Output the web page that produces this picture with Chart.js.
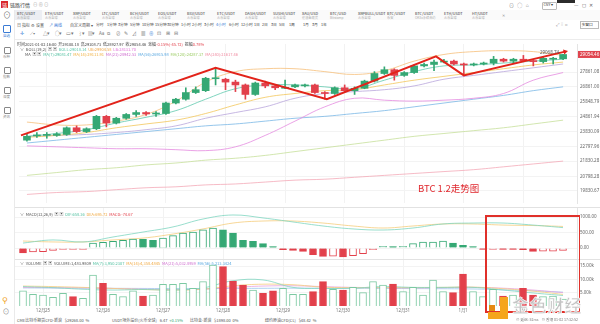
<!DOCTYPE html>
<html lang="zh-CN">
<head>
<meta charset="utf-8">
<title>BTC/USDT 4小时</title>
<script src="https://cdn.jsdelivr.net/npm/chart.js@4.4.1/dist/chart.umd.min.js"></script>
<style>
  html, body { margin: 0; padding: 0; }
  body { width: 600px; height: 324px; overflow: hidden; background: #fff; position: relative;
         font-family: "Noto Sans CJK SC", "Noto Sans", sans-serif; color: #333; }
  .t { position: absolute; white-space: nowrap; line-height: 1; }
  canvas { position: absolute; }
</style>
</head>
<body>
<canvas id="mainChart" width="585" height="167" style="left:15px;top:40px"></canvas>
<canvas id="macdChart" width="585" height="52" style="left:15px;top:207px"></canvas>
<canvas id="volChart" width="585" height="56" style="left:15px;top:259px"></canvas>

<script>
// ---- candles, 4h, 2020-12-24 .. 2021-01-02 ----
const opens  = [23249, 23539, 23572, 23572, 23636, 24088, 23830, 24023, 24862, 24410, 24733, 24991, 25120, 25023, 25055, 25765, 26023, 26474, 26603, 27409, 27377, 27184, 26990, 26345, 27119, 26926, 26764, 26861, 26926, 26990, 26474, 26410, 26797, 26603, 26764, 27248, 27764, 28022, 27635, 27829, 28280, 28377, 28538, 28603, 28409, 28345, 28409, 28474, 28732, 28603, 28732, 28603, 28570, 28732, 28760];
const closes = [23507, 23604, 23636, 23668, 24088, 23830, 24023, 24862, 24410, 24733, 24991, 25120, 25023, 25055, 25765, 26023, 26474, 26668, 27442, 27474, 27184, 26990, 26345, 27119, 26926, 26797, 26829, 26990, 26990, 26474, 26410, 26797, 26603, 26764, 27248, 27764, 28022, 27635, 27829, 28280, 28377, 28538, 28603, 28409, 28345, 28409, 28474, 28732, 28603, 28732, 28635, 28570, 28796, 28760, 29054.46];
const highs  = [23636, 23765, 23765, 23765, 24152, 24217, 24088, 24926, 24926, 24797, 25055, 25249, 25184, 25184, 25829, 26087, 26797, 26861, 27506, 28151, 27442, 27313, 27055, 27184, 27248, 26990, 27313, 27055, 27055, 27055, 26539, 26861, 26990, 26861, 27313, 27893, 28216, 28087, 27893, 28345, 28474, 28667, 28732, 28667, 28474, 28474, 28538, 28925, 28796, 28796, 28990, 28667, 28860, 28860, 29068.74];
const lows   = [23185, 23443, 23378, 23507, 23572, 23765, 23765, 23959, 24152, 24346, 24668, 24862, 24926, 24862, 24991, 25700, 25958, 26410, 26539, 26990, 26668, 26539, 26023, 26281, 26797, 26668, 26732, 26797, 26861, 26410, 26023, 26345, 26539, 26345, 26732, 27184, 27700, 27313, 27571, 27764, 28216, 27958, 28474, 28345, 27635, 28280, 28345, 28345, 28538, 28474, 28603, 28280, 28474, 28409, 28699];
const volumes = [5750, 4400, 4140, 3270, 4770, 3500, 2900, 11650, 8530, 4400, 3500, 5750, 3760, 4140, 8150, 8150, 8530, 6640, 9150, 15400, 14780, 9400, 7900, 6020, 4770, 5750, 6640, 4400, 4400, 5390, 9150, 6270, 6020, 7020, 5010, 9150, 7900, 8270, 5390, 7020, 4140, 9770, 5390, 5010, 12030, 5390, 3500, 6270, 3760, 4140, 6640, 4140, 3500, 3760, 2630];
const macdHist = [-160, -130, -120, -75, -30, -30, -25, 160, 180, 215, 245, 290, 280, 245, 320, 400, 480, 515, 590, 645, 590, 480, 245, 215, 140, 40, -55, -75, -110, -215, -270, -260, -290, -245, -180, -55, 55, 40, 55, 140, 190, 195, 225, 160, 85, 30, -20, -20, -40, -45, -55, -110, -105, -100, -75];

// indicator lines, read every third candle
const sampleIdx = [0, 3, 6, 9, 12, 15, 18, 21, 24, 27, 30, 33, 36, 39, 42, 45, 48, 51, 54];
const bollUp   = [24475, 24281, 24281, 24539, 24991, 25894, 27184, 27893, 28087, 28087, 27893, 27700, 27958, 28603, 29054, 29248, 29312, 29248, 28990];
const bollLow  = [22862, 22798, 22733, 22669, 22669, 22604, 22540, 22798, 23572, 24539, 25507, 26087, 25958, 25894, 25958, 26087, 26410, 27313, 27829];
const ma7      = [23507, 23701, 23959, 24410, 24797, 25249, 26023, 26732, 26990, 26990, 26861, 26732, 27313, 27893, 28280, 28345, 28474, 28603, 28732];
const ma14     = [23443, 23572, 23765, 24088, 24346, 24604, 25055, 25636, 26152, 26410, 26603, 26668, 26990, 27313, 27571, 27829, 28087, 28345, 28538];
const ma21     = [23507, 23572, 23636, 23765, 23959, 24217, 24733, 25120, 25507, 26087, 26410, 26539, 26668, 26926, 27377, 27635, 27893, 28151, 28409];
const ma56     = [23056, 23249, 23443, 23636, 23830, 24023, 24217, 24346, 24539, 24733, 24862, 25055, 25249, 25507, 25765, 26023, 26281, 26603, 26861];
const ma120    = [20863, 21056, 21250, 21379, 21572, 21701, 21895, 22024, 22217, 22475, 22733, 22991, 23249, 23507, 23701, 23894, 24088, 24346, 24604];
const ma240    = [19573, 19702, 19766, 19895, 20024, 20089, 20218, 20282, 20411, 20540, 20605, 20734, 20863, 20992, 21121, 21250, 21443, 21637, 21830];
const dif      = [160, 260, 195, 355, 515, 680, 935, 1065, 970, 840, 710, 615, 580, 645, 775, 805, 805, 740, 658];
const dea      = [225, 195, 195, 260, 320, 450, 615, 805, 870, 870, 805, 710, 645, 710, 775, 775, 740, 725, 696];
const volMa7   = [7300, 6900, 6300, 6000, 6200, 6000, 6800, 9500, 9800, 7000, 6600, 6700, 7300, 7000, 7000, 7000, 6000, 4900, 3950];
const volMa14  = [7500, 7300, 7000, 6600, 6200, 6000, 6300, 7600, 8200, 8000, 7100, 6900, 6900, 6900, 7000, 7100, 6500, 5600, 4360];
const volMa21  = [7000, 6900, 6800, 6600, 6300, 6200, 6300, 7000, 7500, 7600, 7300, 7000, 6900, 6800, 6900, 7000, 6700, 6000, 5030];
const volMa56  = [6800, 6750, 6700, 6650, 6600, 6550, 6550, 6600, 6650, 6700, 6700, 6650, 6600, 6550, 6500, 6400, 6100, 5700, 5210];

// hand drawn trend line (candle index, price)
const trendIdx   = [-0.6, 19, 30.2, 41.2, 44, 54.2];
const trendPrice = [23572, 28151, 26023, 28925, 27635, 29248];

// axes
const dayTicks  = [2, 8, 14, 20, 26, 32, 38, 44, 50];
const dayLabels = ['12月25', '12月26', '12月27', '12月28', '12月29', '12月30', '12月31', '1月1', '1月2'];
const priceTicks = [27861.08, 26861.00, 25848.79, 24861.94, 23830.09, 22797.96, 21830.28, 20798.28, 19830.67];
const macdTicks = [1000, 500, 0];
const volTicks = [15000, 10000, 5000];

const UP = '#35a874', DOWN = '#e2404b';
const FONT = { family: 'Noto Sans', size: 4.5 };
const idx = opens.map((_, i) => i);
const isUp = idx.map(i => closes[i] >= opens[i]);

function xScale(showLabels) {
  return {
    type: 'linear', min: -0.8, max: 55.4, offset: false,
    afterBuildTicks: s => { s.ticks = dayTicks.map(v => ({ value: v })); },
    ticks: { display: showLabels, font: FONT, color: '#777', padding: 2, maxRotation: 0, autoSkip: false,
             callback: (v, i) => dayLabels[i] },
    grid: { color: '#f2f2f2', drawTicks: false, offset: false },
    border: { display: false },
    afterFit: s => { s.height = showLabels ? 9 : 0; s.paddingLeft = 0; s.paddingRight = 0; }
  };
}
function yScale(min, max, ticks, fmt) {
  return {
    position: 'right', min: min, max: max,
    afterBuildTicks: s => { s.ticks = ticks.map(v => ({ value: v })); },
    ticks: { font: FONT, color: '#666', padding: 3, callback: v => fmt(v) },
    grid: { color: '#f3f3f3', drawTicks: false },
    border: { display: true, color: '#e4e4e4' },
    afterFit: s => { s.width = 23; s.paddingTop = 0; s.paddingBottom = 0; }
  };
}
function lineSet(values, color, width) {
  return { type: 'line', data: sampleIdx.map((x, k) => ({ x: x, y: values[k] })),
           borderColor: color, borderWidth: width || 0.8, pointRadius: 0, tension: 0.4, order: 3 };
}
const baseOpts = {
  responsive: false, devicePixelRatio: 1, animation: false,
  layout: { padding: 0 },
  plugins: { legend: { display: false }, tooltip: { enabled: false } }
};

// last price tag + max marker
const priceTag = {
  id: 'priceTag',
  afterDraw(chart) {
    const { ctx, chartArea, scales } = chart;
    const last = closes[closes.length - 1];
    const y = scales.y.getPixelForValue(last);
    ctx.save();
    ctx.fillStyle = '#e0454f';
    ctx.fillRect(chartArea.right + 1, y - 3.5, 22, 7);
    ctx.fillStyle = '#fff';
    ctx.font = '4.5px "Noto Sans"';
    ctx.textBaseline = 'middle';
    ctx.fillText(last.toFixed(2), chartArea.right + 3, y);
    const hi = Math.max.apply(null, highs);
    const hy = scales.y.getPixelForValue(hi);
    const hx = scales.x.getPixelForValue(highs.indexOf(hi));
    ctx.fillStyle = '#555';
    ctx.textAlign = 'right';
    ctx.fillText(hi.toFixed(2), hx - 4, hy - 2);
    ctx.restore();
  }
};

new Chart(document.getElementById('mainChart'), {
  type: 'bar',
  data: {
    datasets: [
      { type: 'line', data: trendIdx.map((x, k) => ({ x: x, y: trendPrice[k] })), borderColor: '#e2231a',
        borderWidth: 2, pointRadius: [0, 0, 0, 0, 0, 3], pointStyle: 'triangle', pointRotation: 76,
        pointBackgroundColor: '#e2231a', pointBorderWidth: 0, tension: 0, order: 0 },
      { data: idx.map(i => ({ x: i, y: [opens[i], closes[i]] })), backgroundColor: idx.map(i => isUp[i] ? UP : DOWN),
        barThickness: 7, minBarLength: 1, grouped: false, order: 1 },
      { data: idx.map(i => ({ x: i, y: [lows[i], highs[i]] })), backgroundColor: idx.map(i => isUp[i] ? UP : DOWN),
        barThickness: 1, grouped: false, order: 2 },
      lineSet(bollUp, '#f6bf7a'),
      lineSet(ma7, '#5ec9ad'),
      lineSet(ma14, '#f3c75a'),
      lineSet(ma21, '#b9a6dc'),
      lineSet(bollLow, '#e58ae0'),
      lineSet(ma56, '#7ab8e6'),
      lineSet(ma120, '#c6e09a'),
      lineSet(ma240, '#f4a9b8')
    ]
  },
  options: Object.assign({}, baseOpts, {
    scales: { x: xScale(false), y: yScale(18992, 29763.5, priceTicks, v => v.toFixed(2)) }
  }),
  plugins: [priceTag]
});

new Chart(document.getElementById('macdChart'), {
  type: 'bar',
  data: {
    datasets: [
      lineSet(dif, '#7fd6c0'),
      lineSet(dea, '#f5cd7c'),
      { data: idx.map(i => ({ x: i, y: macdHist[i] })),
        backgroundColor: idx.map(i => (i > 0 && macdHist[i] >= macdHist[i - 1]) ? '#fff' : (macdHist[i] >= 0 ? UP : DOWN)),
        borderColor: idx.map(i => macdHist[i] >= 0 ? UP : DOWN),
        borderWidth: 1, barThickness: 7, minBarLength: 1.5, grouped: false, order: 1 }
    ]
  },
  options: Object.assign({}, baseOpts, {
    scales: { x: xScale(false), y: yScale(-354.8, 1322.6, macdTicks, v => v.toFixed(2)) }
  })
});

new Chart(document.getElementById('volChart'), {
  type: 'bar',
  data: {
    datasets: [
      lineSet(volMa7, '#7fd6c0'),
      lineSet(volMa14, '#f5cd7c'),
      lineSet(volMa21, '#e7a2e0'),
      lineSet(volMa56, '#9cc6ec'),
      { data: idx.map(i => ({ x: i, y: volumes[i] })),
        backgroundColor: idx.map(i => isUp[i] ? '#fff' : DOWN),
        borderColor: idx.map(i => isUp[i] ? '#7cc9a2' : DOWN),
        borderWidth: 1, barThickness: 7, grouped: false, order: 1 }
    ]
  },
  options: Object.assign({}, baseOpts, {
    scales: { x: xScale(true), y: yScale(0, 17672, volTicks, v => (v / 1000).toFixed(2) + 'k') }
  })
});

// ---------- surrounding terminal UI ----------
function put(x, y, html, size, color, extra) {
  const d = document.createElement('div');
  d.className = 't';
  d.style.left = x + 'px';
  d.style.top = y + 'px';
  d.style.fontSize = size + 'px';
  d.style.color = color || '#333';
  if (extra) Object.assign(d.style, extra);
  d.innerHTML = html;
  document.body.appendChild(d);
  return d;
}
function box(x, y, w, h, style) {
  const d = document.createElement('div');
  d.style.position = 'absolute';
  d.style.left = x + 'px'; d.style.top = y + 'px';
  d.style.width = w + 'px'; d.style.height = h + 'px';
  Object.assign(d.style, style);
  document.body.appendChild(d);
  return d;
}

// title bar
box(1, 1, 7, 7, { background: '#d9252b' });
put(2.2, 2, '链', 5, '#fff');
put(10, 2, '链路行情', 5, '#333');
put(33, 2, '⊖ ⊕ ⊙', 4.5, '#aaa');
put(509, 2, '⊙&nbsp;&nbsp; ◯&nbsp;&nbsp; ⌂', 5, '#777');
box(542, 2, 13, 6, { border: '0.5px solid #bbb', borderRadius: '1px' });
put(543.5, 3.3, 'CNY ▾', 3.6, '#333');
box(557, 0, 18, 3, { background: '#2b2b2b' });
put(574, 1.5, '—&nbsp;&nbsp;&nbsp;◻&nbsp;&nbsp; ✕', 5, '#666');

// pair tabs
const tabs = [['BTC/USDT', '火币全球'], ['ETH/USDT', '火币全球'], ['XRP/USDT', '火币全球'], ['LTC/USDT', '火币全球'],
  ['BCH/USDT', '火币全球'], ['EOS/USDT', '火币全球'], ['BSV/USDT', '火币全球'], ['ETC/USDT', '火币全球'],
  ['DASH/USDT', '火币全球'], ['SUSHI/USDT', '火币全球'], ['XAU/USD', '伦敦金现货'], ['BTC/USD', 'Bitstamp'],
  ['XRPBULL/USDT', '火币全球'], ['BTC/USDT', '币安'], ['BTC/USDT', 'OKEx永续合约'], ['ETH/USDT', '火币全球'], ['HT/USDT', '火币全球']];
const tabX = [17, 45, 73, 102, 130, 158, 187, 217, 245, 273, 302, 330, 358, 387, 415, 444, 472];
box(15, 10, 585, 10, { background: '#fafafa' });
box(15, 10, 27, 10, { background: '#eceef3' });
tabs.forEach((t, k) => {
  put(tabX[k], 11.5, t[0], 3.8, '#333');
  put(tabX[k], 16, t[1], 3.2, '#aaa');
});
put(502, 13, '✕', 4, '#999');

// period row
put(17, 22.5, '日 指标', 4, '#555');
put(31, 22.5, '⚙ 设置', 4, '#555');
put(49, 22.5, '↗ 画线', 4, '#3a7bd5');
put(70, 22.5, '自定义周期 ▾', 4, '#555');
const periods = ['分时', '1分钟', '3分钟', '5分钟', '10分钟', '15分钟', '30分钟', '1小时', '2小时', '3小时', '4小时', '6小时', '12小时', '1日', '2日', '3日', '5日', '1周', '1月', '3月', '1年'];
const periodX = [96, 107, 118, 130, 142, 155, 167, 181, 192, 204, 216, 229, 241, 254, 262, 271, 279, 289, 303, 312, 321];
periods.forEach((p, k) => put(periodX[k], 22.5, p, 3.8, p === '4小时' ? '#3a7bd5' : '#444'));
put(556, 22, '⤢&nbsp; ⋮⋮&nbsp; ◻', 4.2, '#777');
box(580, 21, 17, 6, { border: '0.5px solid #bbb' });
put(581.5, 22.5, '多窗口', 3.8, '#333');

// drawing tools row
const tools = ['✛', '⟋▾', '△▾', '○▾', '▭▾', '⌇▾', '▤▾', 'Aa', '⧉', '⊘', '✎', '⊿', '▦', '⊕', '⊡', '⊞', '⊟'];
const toolX = [20, 30, 43, 55, 66, 78, 88, 99, 107, 116, 124, 132, 141, 149, 157, 166, 174];
tools.forEach((g, k) => put(toolX[k], 31, g, 4.5, (k === 0 || k === 13) ? '#3a7bd5' : '#777'));
box(15, 39, 585, 0.5, { background: '#ececec' });

// side bar
box(14, 10, 0.5, 314, { background: '#eaeaea' });
put(3, 11, '⊙', 8, '#777');
box(3, 25, 8, 8, { border: '1px solid #3a7bd5', borderRadius: '1px', boxSizing: 'border-box' });
put(3, 34, '自选', 3.5, '#3a7bd5');
const sideLab = ['币种', '指数', '深度', '资讯'];
sideLab.forEach((s, k) => {
  box(4, 47 + k * 20, 7, 7, { border: '0.8px solid #888', borderRadius: '1px', boxSizing: 'border-box' });
  put(3, 55 + k * 20, s, 3.5, '#888');
});
put(2, 296, '⚲', 8, '#f0a020');
put(2.5, 308, '⊙', 7, '#888');

// info + legends (main pane)
put(17, 41.5, '时间2021-01-02 16:00&nbsp; 开29100.18&nbsp; 高29108.73&nbsp; 低28927.97&nbsp; 收29054.46&nbsp; 涨幅<span style="color:#e2404b">-0.15%(-45.72)</span>&nbsp; 振幅<span style="color:#e2404b">0.78%</span>', 4, '#444');
put(20, 46.5, '∨&nbsp; BOLL(19,2)&nbsp; ▣ ▣&nbsp; <span style="color:#5ec9ad">BOLL:29018.14</span>&nbsp; <span style="color:#f0a84a">UB:29904.58</span>&nbsp; <span style="color:#e070d8">LB:28131.70</span>', 4, '#555');
put(25, 51.5, 'MA&nbsp; ▣ ▣&nbsp; <span style="color:#4fbf9f">MA(7):29081.47</span>&nbsp; <span style="color:#f0b040">MA(14):29111.91</span>&nbsp; <span style="color:#d070d0">MA(21):28942.53</span>&nbsp; <span style="color:#5aa8e0">MA(56):26915.98</span>&nbsp; <span style="color:#9ccc65">MA(120):24287.37</span>&nbsp; <span style="color:#f08aa0">MA(240):21617.46</span>', 4, '#555');

// pane separators + pane legends
box(15, 207, 585, 0.5, { background: '#e2e2e2' });
box(15, 259, 585, 0.5, { background: '#e2e2e2' });
put(20, 211.5, '∨&nbsp; MACD(12,26,9)&nbsp; ▣ ▣&nbsp; <span style="color:#4fbf9f">DIF:658.36</span>&nbsp; <span style="color:#f0a840">DEA:695.72</span>&nbsp; <span style="color:#e2404b">MACD:-74.67</span>', 4, '#555');
put(20, 260.5, '∨&nbsp; VOLUME&nbsp; ▣ ▣&nbsp; VOLUME:1,483.9809&nbsp; <span style="color:#4fbf9f">MA(7):3,950.2307</span>&nbsp; <span style="color:#f0a840">MA(14):4,358.4845</span>&nbsp; <span style="color:#d070d0">MA(21):5,032.8959</span>&nbsp; <span style="color:#5aa8e0">MA(56):5,213.3424</span>', 4, '#555');

// annotations: red caption and red frame (four edges)
put(418, 184, 'BTC 1.2走势图', 9.5, '#e0282e');
const RED = '#e0302a';
box(485, 215, 95, 1.5, { background: RED });
box(485, 311, 95, 1.5, { background: RED });
box(485, 215, 1.5, 97, { background: RED });
box(578.5, 215, 1.5, 97, { background: RED });

// status bar
box(15, 315, 585, 9, { background: '#fff' });
put(17, 317.5, 'CME比特币期货CFD-新浪&nbsp;&nbsp; $29268.00&nbsp; %', 4, '#555');
put(112, 317.5, 'USDT场外溢价(火币全球)&nbsp;&nbsp; 6.47&nbsp; <span style="color:#2fa36b">+0.15%</span>', 4, '#555');
put(190, 317.5, '比特金-新浪&nbsp;&nbsp; $1898.00&nbsp; 0%', 4, '#555');
put(265, 317.5, '纽约原油CFD(CL)&nbsp;&nbsp; $48.42&nbsp; %', 4, '#555');

// watermark
box(500, 297, 8, 21, { background: '#f5a51c' });
box(488, 312, 20, 7, { background: '#f5a51c' });
box(489, 305, 6, 6, { background: '#e58a12' });
put(512, 296, '金色财经', 17, '#c4c4c4', { fontWeight: 'bold', webkitTextStroke: '0.6px #fff', letterSpacing: '0.5px' });
put(516, 317.5, '⊙ 延迟: 52ms&nbsp;&nbsp;&nbsp; ⊙ 香港 01-02 17:32:52', 3.6, '#777');
</script>
</body>
</html>
